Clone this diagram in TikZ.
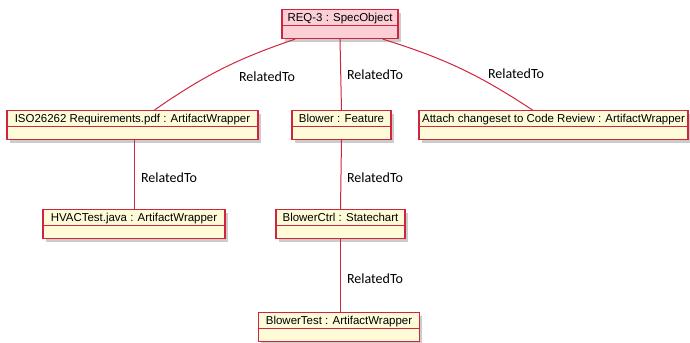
\documentclass[tikz,border=0pt]{standalone}
\usepackage{fontspec}
\setmainfont{Liberation Sans}
\newfontfamily\labelfont{Carlito}
\usetikzlibrary{shadows}
\definecolor{umlred}{HTML}{D0243F}
\definecolor{umlyellow}{HTML}{FEFCD8}
\definecolor{umlpink}{HTML}{FCCFD7}
\tikzset{
x=0.75pt, y=-0.75pt, % one unit is one pixel of the reference
objbox/.style={draw=umlred, fill=umlyellow, line width=0.9pt, anchor=north,
  inner sep=0pt, minimum height=21.75pt, text height=9pt, text depth=12.75pt,
  font=\fontsize{8.6}{9}\selectfont,
  path picture={\draw[umlred, line width=0.9pt]
    ([yshift=-12pt]path picture bounding box.north west) --
    ([yshift=-12pt]path picture bounding box.north east);},
  drop shadow={shadow xshift=2.2pt, shadow yshift=-2.2pt, fill=black!40, opacity=.5}}, % object box with empty body
reqbox/.style={objbox, fill=umlpink},
rel/.style={draw=umlred, line width=0.75pt}, % association line
rellabel/.style={font=\labelfont\fontsize{10.5}{12}\selectfont, inner sep=0pt},
}
\begin{document}
\begin{tikzpicture}
    \useasboundingbox (0,0) rectangle (690,343);
    % objects
    \node[reqbox, minimum width=116*0.75pt] (req) at (340,9) {REQ-3 : SpecObject};
    \node[objbox, minimum width=251*0.75pt] (iso) at (132.5,110) {ISO26262 Requirements.pdf : ArtifactWrapper};
    \node[objbox, minimum width=99*0.75pt] (blower) at (341.5,110) {Blower : Feature};
    \node[objbox, minimum width=269*0.75pt] (attach) at (553.5,110) {Attach changeset to Code Review : ArtifactWrapper};
    \node[objbox, minimum width=182*0.75pt] (hvac) at (134,209) {HVACTest.java : ArtifactWrapper};
    \node[objbox, minimum width=129*0.75pt] (ctrl) at (340.5,209) {BlowerCtrl : Statechart};
    \node[objbox, minimum width=161*0.75pt] (btest) at (339,312) {BlowerTest : ArtifactWrapper};

    % links
    \draw[rel] ([xshift=-45*0.75pt]req.south) to[bend right=8] ([xshift=22*0.75pt]iso.north);
    \draw[rel] (req.south) -- (blower.north);
    \draw[rel] ([xshift=43*0.75pt]req.south) to[bend left=8] ([xshift=-21*0.75pt]attach.north);
    \draw[rel] ([xshift=2*0.75pt]iso.south) -- ([xshift=0.5*0.75pt]hvac.north);
    \draw[rel] (blower.south) -- (ctrl.north);
    \draw[rel] (ctrl.south) -- (ctrl.south |- btest.north);

    \node[rellabel] (l1) at (267,77) {RelatedTo};
    \node[rellabel] (l2) at (375,75) {RelatedTo};
    \node[rellabel] (l3) at (516,74) {RelatedTo};
    \node[rellabel] (l4) at (169,178) {RelatedTo};
    \node[rellabel] (l5) at (375,178) {RelatedTo};
    \node[rellabel] (l6) at (375,279) {RelatedTo};
\end{tikzpicture}
\end{document}
